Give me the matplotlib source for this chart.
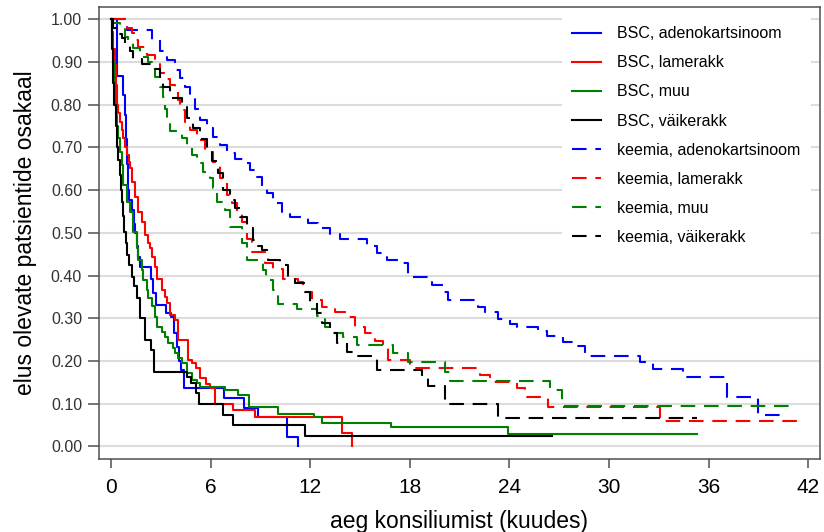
import matplotlib
matplotlib.use("Agg")
import matplotlib.pyplot as plt
from matplotlib.lines import Line2D

plt.rcParams['font.family'] = ['Liberation Sans', 'DejaVu Sans']

# ---- data: Kaplan-Meier step points (months, survival fraction) ----
t_bsc_adeno = [0, 0.36, 0.72, 0.84, 0.90, 0.96, 1.02, 1.08, 1.27, 1.39, 1.45, 1.57, 1.63, 1.75, 2.41, 2.53, 2.71,
               3.31, 3.61, 3.80, 3.98, 4.10, 4.22, 4.40, 6.81, 8.01, 8.86, 10.6, 11.27]
s_bsc_adeno = [1.0, 0.868, 0.822, 0.776, 0.72, 0.66, 0.60, 0.577, 0.553, 0.52, 0.50, 0.47, 0.443, 0.421, 0.393, 0.36,
               0.33, 0.312, 0.303, 0.265, 0.233, 0.20, 0.18, 0.137, 0.113, 0.09, 0.069, 0.022, 0.0]

t_bsc_lame = [0, 0.06, 0.12, 0.24, 0.30, 0.36, 0.42, 0.54, 0.66, 0.72, 0.84, 0.96, 1.08, 1.14, 1.27, 1.45, 1.63, 1.87,
              2.05, 2.23, 2.35, 2.47, 2.65, 2.77, 3.07, 3.25, 3.37, 3.55, 3.86, 4.04, 4.64, 4.88, 5.12, 5.36, 5.72,
              5.96, 6.24, 7.35, 8.67, 13.92, 14.52]
s_bsc_lame = [1.0, 0.97, 0.93, 0.893, 0.846, 0.80, 0.78, 0.76, 0.74, 0.722, 0.70, 0.682, 0.665, 0.651, 0.619, 0.584,
              0.549, 0.525, 0.494, 0.476, 0.464, 0.443, 0.421, 0.393, 0.365, 0.35, 0.336, 0.308, 0.296, 0.25, 0.202,
              0.195, 0.183, 0.16, 0.147, 0.137, 0.10, 0.085, 0.068, 0.032, 0.0]

t_bsc_muu = [0, 0.06, 0.12, 0.18, 0.24, 0.30, 0.36, 0.42, 0.54, 0.66, 0.72, 0.96, 1.14, 1.33, 1.57, 1.63, 1.87, 1.93,
             2.17, 2.23, 2.47, 2.65, 2.77, 3.07, 3.25, 3.43, 3.73, 3.86, 4.04, 4.28, 4.58, 4.88, 5.18, 5.36, 6.87,
             7.65, 8.31, 10.06, 12.23, 12.71, 16.87, 23.92, 35.30]
s_bsc_muu = [1.0, 0.95, 0.90, 0.85, 0.80, 0.776, 0.75, 0.722, 0.69, 0.659, 0.612, 0.572, 0.549, 0.502, 0.464, 0.436,
             0.413, 0.39, 0.366, 0.347, 0.328, 0.303, 0.28, 0.268, 0.256, 0.241, 0.23, 0.218, 0.207, 0.195, 0.172,
             0.155, 0.148, 0.139, 0.132, 0.12, 0.093, 0.077, 0.07, 0.056, 0.045, 0.029, 0.029]

t_bsc_vaike = [0, 0.06, 0.12, 0.18, 0.30, 0.36, 0.42, 0.54, 0.60, 0.66, 0.72, 0.78, 0.90, 0.96, 1.08, 1.27, 1.39,
               1.57, 1.75, 2.05, 2.41, 2.59, 4.58, 4.82, 5.12, 5.30, 6.75, 7.35, 11.69, 26.57]
s_bsc_vaike = [1.0, 0.93, 0.85, 0.80, 0.75, 0.70, 0.67, 0.636, 0.60, 0.573, 0.54, 0.502, 0.475, 0.449, 0.424, 0.397,
               0.375, 0.348, 0.301, 0.25, 0.226, 0.174, 0.163, 0.148, 0.124, 0.10, 0.073, 0.05, 0.024, 0.024]

t_kee_adeno = [0, 0.96, 2.47, 2.95, 3.37, 3.86, 4.16, 4.46, 4.76, 5.06, 5.36, 5.78, 6.14, 6.57, 6.99, 7.47, 7.95,
               8.37, 8.80, 9.10, 9.40, 9.76, 10.30, 10.78, 11.87, 12.47, 13.19, 13.80, 15.42, 16.02, 16.63, 17.41,
               17.89, 19.34, 20.0, 20.3, 22.1, 22.5, 23.3, 24.04, 24.46, 25.7, 26.27, 27.2, 27.8, 28.55, 31.87,
               32.65, 34.46, 37.1, 38.98, 40.7]
s_kee_adeno = [1.0, 0.975, 0.95, 0.925, 0.905, 0.88, 0.862, 0.84, 0.818, 0.79, 0.764, 0.745, 0.725, 0.705, 0.686,
               0.672, 0.663, 0.648, 0.631, 0.61, 0.592, 0.569, 0.549, 0.537, 0.523, 0.511, 0.497, 0.486, 0.469,
               0.452, 0.436, 0.429, 0.397, 0.378, 0.361, 0.343, 0.326, 0.314, 0.298, 0.287, 0.279, 0.27, 0.259,
               0.245, 0.236, 0.212, 0.197, 0.181, 0.163, 0.116, 0.073, 0.073]

t_kee_lame = [0, 0.96, 1.27, 1.45, 1.63, 2.17, 2.65, 2.95, 3.31, 3.55, 3.86, 4.04, 4.16, 4.46, 4.76, 5.18, 5.66,
              6.14, 6.57, 6.99, 7.29, 7.59, 7.89, 8.19, 8.49, 9.28, 9.76, 10.36, 11.27, 11.57, 12.11, 12.71, 13.49,
              14.22, 14.70, 15.30, 15.90, 16.39, 16.69, 18.01, 22.23, 22.83, 24.46, 24.94, 26.33, 33.07, 41.33]
s_kee_lame = [1.0, 0.979, 0.967, 0.95, 0.934, 0.916, 0.897, 0.874, 0.86, 0.845, 0.83, 0.81, 0.787, 0.76, 0.741,
              0.717, 0.689, 0.666, 0.628, 0.589, 0.57, 0.549, 0.525, 0.485, 0.456, 0.429, 0.415, 0.393, 0.384,
              0.361, 0.343, 0.326, 0.314, 0.303, 0.28, 0.266, 0.247, 0.23, 0.202, 0.184, 0.168, 0.151, 0.136,
              0.115, 0.093, 0.06, 0.06]

t_kee_muu = [0, 0.12, 0.54, 0.84, 1.02, 1.33, 1.75, 2.23, 2.47, 2.65, 2.95, 3.13, 3.25, 3.37, 3.55, 4.28, 4.58,
             4.88, 5.18, 5.54, 5.96, 6.14, 6.39, 6.87, 7.17, 7.89, 8.19, 9.16, 9.34, 9.76, 10.06, 11.20, 12.41,
             12.89, 13.31, 13.98, 14.82, 16.99, 17.89, 20.12, 20.42, 26.45, 27.17, 41.33]
s_kee_muu = [1.0, 0.99, 0.979, 0.957, 0.947, 0.933, 0.912, 0.90, 0.885, 0.865, 0.842, 0.818, 0.79, 0.76, 0.737,
             0.722, 0.698, 0.682, 0.663, 0.643, 0.628, 0.605, 0.572, 0.553, 0.514, 0.475, 0.436, 0.414, 0.39,
             0.366, 0.334, 0.321, 0.305, 0.28, 0.266, 0.255, 0.238, 0.219, 0.198, 0.174, 0.154, 0.132, 0.095, 0.095]

t_kee_vaike = [0, 0.12, 0.42, 0.66, 0.84, 1.14, 1.33, 1.87, 2.65, 2.95, 3.13, 3.55, 4.28, 4.58, 4.94, 5.36, 5.78,
               6.08, 6.45, 6.75, 7.17, 7.47, 7.77, 8.19, 8.55, 8.86, 9.10, 9.46, 10.18, 10.66, 11.08, 11.69, 11.99,
               12.41, 12.71, 13.19, 13.61, 14.22, 14.70, 16.02, 18.73, 19.10, 20.12, 23.31, 35.30]
s_kee_vaike = [1.0, 0.98, 0.965, 0.955, 0.94, 0.926, 0.906, 0.894, 0.883, 0.86, 0.84, 0.815, 0.795, 0.768, 0.745,
               0.72, 0.694, 0.667, 0.64, 0.60, 0.577, 0.557, 0.537, 0.511, 0.483, 0.47, 0.459, 0.436, 0.424, 0.397,
               0.382, 0.362, 0.336, 0.312, 0.288, 0.265, 0.241, 0.22, 0.212, 0.179, 0.16, 0.141, 0.099, 0.066, 0.066]

labels = ["BSC, adenokartsinoom", "BSC, lamerakk", "BSC, muu", "BSC, väikerakk",
          "keemia, adenokartsinoom", "keemia, lamerakk", "keemia, muu", "keemia, väikerakk"]
x_ticks = [0, 6, 12, 18, 24, 30, 36, 42]
y_ticks = [0.0, 0.1, 0.2, 0.3, 0.4, 0.5, 0.6, 0.7, 0.8, 0.9, 1.0]

series = [(t_bsc_adeno, s_bsc_adeno), (t_bsc_lame, s_bsc_lame), (t_bsc_muu, s_bsc_muu), (t_bsc_vaike, s_bsc_vaike),
          (t_kee_adeno, s_kee_adeno), (t_kee_lame, s_kee_lame), (t_kee_muu, s_kee_muu), (t_kee_vaike, s_kee_vaike)]
colors = ['#0000ff', '#ff0000', '#008000', '#000000'] * 2
styles = ['solid'] * 4 + ['dashed'] * 4

fig = plt.figure(figsize=(8.24, 5.32), dpi=100)
ax = fig.add_axes([0.1198, 0.1367, 0.9951 - 0.1198, 0.9874 - 0.1367])

for (t, s), c, ls in zip(series, colors, styles):
    line, = ax.plot(t, s, drawstyle='steps-post', color=c, lw=1.5)
    if ls == 'dashed':
        line.set_dashes((7, 4.2))

ax.set_xlim(-0.74, 42.7)
ax.set_ylim(-0.030, 1.029)
ax.set_xticks(x_ticks)
ax.set_xticklabels([str(v) for v in x_ticks])
ax.set_yticks(y_ticks)
ax.set_yticklabels([f"{v:.2f}" for v in y_ticks])
ax.yaxis.grid(True, color='#dcdcdc', lw=1.5)
ax.set_axisbelow(True)

for sp in ax.spines.values():
    sp.set_color('#505050')
    sp.set_linewidth(1.1)
ax.tick_params(axis='x', direction='out', length=6.5, width=1.1, color='#505050', pad=7,
               labelsize=15, labelcolor='black')
ax.tick_params(axis='y', direction='out', length=8, width=1.1, color='#505050', pad=4,
               labelsize=11.5, labelcolor='#333333')

ax.set_xlabel("aeg konsiliumist (kuudes)", fontsize=16.5, labelpad=9)
ax.set_ylabel("elus olevate patsientide osakaal", fontsize=16.5, labelpad=10)

handles = []
for c, ls in zip(colors, styles):
    h = Line2D([], [], color=c, lw=1.5)
    if ls == 'dashed':
        h.set_dashes((7, 4.2))
    handles.append(h)
leg = ax.legend(handles, labels, loc='upper left', bbox_to_anchor=(562 / 824, 1 - 16 / 532),
                bbox_transform=fig.transFigure, fontsize=11.5, frameon=True, fancybox=False,
                edgecolor='none', facecolor='white', framealpha=1.0, handlelength=1.8,
                handletextpad=1.0, labelspacing=0.88, borderpad=0.65, borderaxespad=0)

fig.savefig("out.png", dpi=100)
